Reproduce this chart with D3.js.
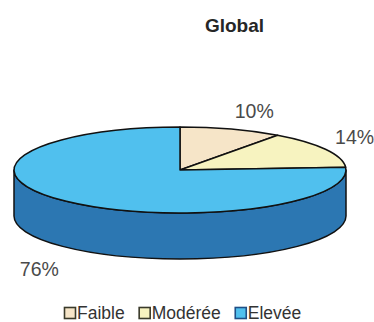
<!DOCTYPE html>
<html>
<head>
<meta charset="utf-8">
<script src="https://cdn.jsdelivr.net/npm/d3@7/dist/d3.min.js"></script>
<style>
  html, body { margin: 0; padding: 0; background: #ffffff; }
  svg { display: block; }
  text { font-family: "Liberation Sans", Arial, sans-serif; }
</style>
</head>
<body>
<script>
// Répartition globale par niveau
const categories = ["Faible", "Modérée", "Elevée"];
const values = [10, 14, 76];
const valueLabels = ["10%", "14%", "76%"];
const topColors = ["#f6e5c8", "#f7f3c0", "#50c0ee"];
const sideColors = ["#d8c6a4", "#d6d29c", "#2c77b2"];
const legendBorders = ["#3a3a2a", "#3a3a2a", "#1f4f86"];

const W = 374, H = 322;
const cx = 180, cy = 170, rx = 166, ry = 43, depth = 46;

const svg = d3.select("body").append("svg")
  .attr("width", W).attr("height", H);

svg.append("text")
  .attr("x", 234.5).attr("y", 32)
  .attr("text-anchor", "middle")
  .attr("font-size", 19).attr("font-weight", "bold")
  .attr("fill", "#262626")
  .text("Global");

const data = categories.map((c, i) => ({ name: c, value: values[i], label: valueLabels[i], i }));
const pie = d3.pie().sort(null).value(d => d.value);
const arcs = pie(data);

// point on the top ellipse for a clockwise angle measured from 12 o'clock
const pt = (a, dy = 0) => [cx + rx * Math.sin(a), cy - ry * Math.cos(a) + dy];

// visible front wall of the disc (angles between 3 and 9 o'clock)
const sideG = svg.append("g");
arcs.forEach(a => {
  const s = Math.max(a.startAngle, Math.PI / 2);
  const e = Math.min(a.endAngle, 3 * Math.PI / 2);
  if (e <= s) return;
  const p0 = pt(s), p1 = pt(e), p2 = pt(e, depth), p3 = pt(s, depth);
  const large = (e - s) > Math.PI ? 1 : 0;
  const d = `M${p0[0]},${p0[1]} A${rx},${ry} 0 ${large} 1 ${p1[0]},${p1[1]}` +
            ` L${p2[0]},${p2[1]} A${rx},${ry} 0 ${large} 0 ${p3[0]},${p3[1]} Z`;
  sideG.append("path")
    .attr("d", d)
    .attr("fill", sideColors[a.data.i])
    .attr("stroke", "#111")
    .attr("stroke-width", 1.5)
    .attr("stroke-linejoin", "round");
});

// top face: circular arcs squashed into an ellipse
const arc = d3.arc().innerRadius(0).outerRadius(rx);
svg.append("g")
  .attr("transform", `translate(${cx},${cy}) scale(1,${ry / rx})`)
  .selectAll("path")
  .data(arcs)
  .join("path")
  .attr("d", arc)
  .attr("fill", d => topColors[d.data.i])
  .attr("stroke", "#111")
  .attr("stroke-width", 1.5)
  .attr("stroke-linejoin", "round")
  .attr("vector-effect", "non-scaling-stroke");

// percentage labels outside each slice
const labelFont = 19.5;
svg.append("g")
  .selectAll("text")
  .data(arcs)
  .join("text")
  .each(function (d) {
    const m = (d.startAngle + d.endAngle) / 2;
    const sx = Math.sin(m), cs = Math.cos(m);
    const x = cx + (rx + 11) * sx;
    let y = cy - (ry + 12) * cs;
    if (cs < 0) y += depth + labelFont;
    d3.select(this)
      .attr("x", x).attr("y", y)
      .attr("text-anchor", sx >= 0 ? "start" : "end");
  })
  .attr("font-size", labelFont)
  .attr("fill", "#4a4a4a")
  .text(d => d.data.label);

// legend
const legend = svg.append("g");
let lx = 64;
const ly = 307, box = 11;
data.forEach(d => {
  legend.append("rect")
    .attr("x", lx + 0.5).attr("y", ly + 0.5)
    .attr("width", box).attr("height", box)
    .attr("fill", topColors[d.i])
    .attr("stroke", legendBorders[d.i])
    .attr("stroke-width", 1.6);
  const t = legend.append("text")
    .attr("x", lx + box + 2).attr("y", ly + 12)
    .attr("font-size", 17.5)
    .attr("fill", "#333")
    .text(d.name);
  lx += box + 2 + t.node().getComputedTextLength() + 14;
});
</script>
</body>
</html>
